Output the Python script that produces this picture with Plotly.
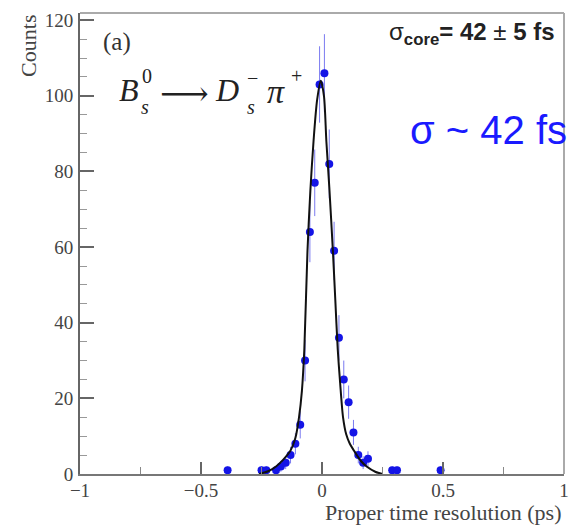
import plotly.graph_objects as go

# ---- data ----
bin_centers = [-0.39, -0.25, -0.23, -0.19, -0.17, -0.15, -0.13, -0.11, -0.09, -0.07,
               -0.05, -0.03, -0.01, 0.01, 0.03, 0.05, 0.07, 0.09, 0.11, 0.13,
               0.15, 0.17, 0.19, 0.29, 0.31, 0.49]
counts = [1, 1, 1, 1, 2, 3, 5, 8, 13, 30,
          64, 77, 103, 106, 82, 59, 36, 25, 19, 11,
          5, 3, 4, 1, 1, 1]
count_errors = [1.0, 1.0, 1.0, 1.0, 1.4, 1.7, 2.2, 2.8, 3.6, 5.5,
                8.0, 8.8, 10.1, 10.3, 9.1, 7.7, 6.0, 5.0, 4.4, 3.3,
                2.2, 1.7, 2.0, 1.0, 1.0, 1.0]

fit_x = [-0.26, -0.22, -0.19, -0.16, -0.13, -0.11, -0.095, -0.083, -0.073, -0.060,
         -0.048, -0.035, -0.02, -0.005, 0.008, 0.018, 0.03, 0.045, 0.055, 0.065,
         0.075, 0.087, 0.10, 0.115, 0.131, 0.16, 0.186, 0.22, 0.25]
fit_y = [0.0, 0.8, 2.0, 3.8, 6.2, 9.5, 15, 22, 33, 59,
         75, 88, 99, 104, 100, 88, 76, 59, 46, 33,
         24, 15, 10.5, 8.0, 6.3, 3.5, 1.9, 0.6, 0.0]

x_ticks = [-1, -0.5, 0, 0.5, 1]
x_tick_labels = ["\u22121", "\u22120.5", "0", "0.5", "1"]
y_ticks = [0, 20, 40, 60, 80, 100, 120]

W, H = 575, 526
L, R, T, B = 80, 6, 13, 52
PW, PH = W - L - R, H - T - B
# pixel helpers (positions measured in the reference picture)
PLOT_RIGHT = 563


def px(xp):
    return (xp - L) / (PLOT_RIGHT - L)


def py(yp):
    return (H - B - yp) / PH


SERIF = "Liberation Serif"
SANS = "Liberation Sans"

fig = go.Figure()

fig.add_trace(go.Scatter(
    x=bin_centers, y=counts, mode="markers",
    marker=dict(color="#1414e6", size=8),
    error_y=dict(type="data", array=count_errors, color="#7a7af0", thickness=1, width=0),
    showlegend=False, hoverinfo="skip",
))

fig.add_trace(go.Scatter(
    x=fit_x, y=fit_y, mode="lines",
    line=dict(color="#111111", width=2, shape="spline", smoothing=0.8),
    showlegend=False, hoverinfo="skip",
))

axis_font = dict(family=SERIF, size=19, color="#444444")

fig.update_layout(
    width=W, height=H,
    margin=dict(l=L, r=R, t=T, b=B),
    paper_bgcolor="white", plot_bgcolor="white",
    xaxis=dict(
        range=[-1, 1], tickvals=x_ticks, ticktext=x_tick_labels,
        ticks="inside", ticklen=12, tickcolor="#666666", tickwidth=1.5,
        minor=dict(ticks="inside", ticklen=7, dtick=0.25, tickcolor="#888888", tickwidth=1.2),
        showgrid=False, zeroline=False,
        showline=True, linecolor="#777777", linewidth=2,
        tickfont=axis_font, ticklabelstandoff=-2,
    ),
    yaxis=dict(
        range=[0, 121.9], tickvals=y_ticks,
        ticks="inside", ticklen=14, tickcolor="#666666", tickwidth=1.5,
        minor=dict(ticks="inside", ticklen=7, dtick=5, tickcolor="#999999", tickwidth=1.2),
        showgrid=False, zeroline=False,
        showline=True, linecolor="#666666", linewidth=2,
        tickfont=axis_font, ticklabelstandoff=1,
    ),
    shapes=[
        dict(type="line", xref="paper", yref="paper", x0=0, x1=1, y0=1, y1=1,
             line=dict(color="#aaaaaa", width=2)),
        dict(type="line", xref="paper", yref="paper", x0=1, x1=1, y0=0, y1=1,
             line=dict(color="#aaaaaa", width=2)),
    ],
)

ann = []


def add(text, xp, yp, size, family=SERIF, color="#222222", xanchor="center",
        yanchor="middle", angle=0):
    ann.append(dict(text=text, x=px(xp), y=py(yp), xref="paper", yref="paper",
                    showarrow=False, xanchor=xanchor, yanchor=yanchor,
                    textangle=angle, font=dict(family=family, size=size, color=color)))


add("Counts", 29, 46, 22, color="#444444", angle=-90)
add("(a)", 117, 42, 25, color="#333333")
# B_s^0 -> D_s^- pi^+
add("<i>B</i>", 129, 90, 32)
add("0", 147, 76, 20)
add("<i>s</i>", 145, 107, 20)
add("\u27f6", 184, 93, 34, family="DejaVu Serif")
add("<i>D</i>", 227, 90, 32)
add("\u2212", 252, 78, 20)
add("<i>s</i>", 251, 107, 20)
add("<i>\u03c0</i>", 276, 92, 34)
add("+", 296, 76, 20)

add("\u03c3<sub><b>core</b></sub><b>= 42 </b>\u00b1<b> 5 fs</b>", 556, 33, 24,
    family=SANS, color="#222222", xanchor="right")
add("\u03c3 ~ 42 fs", 568, 130, 40, family=SANS, color="#1a1aff", xanchor="right")
add("Proper time resolution (ps)", 562, 512, 22, color="#444444", xanchor="right")

fig.update_layout(annotations=ann)

fig.write_html("out.html")
